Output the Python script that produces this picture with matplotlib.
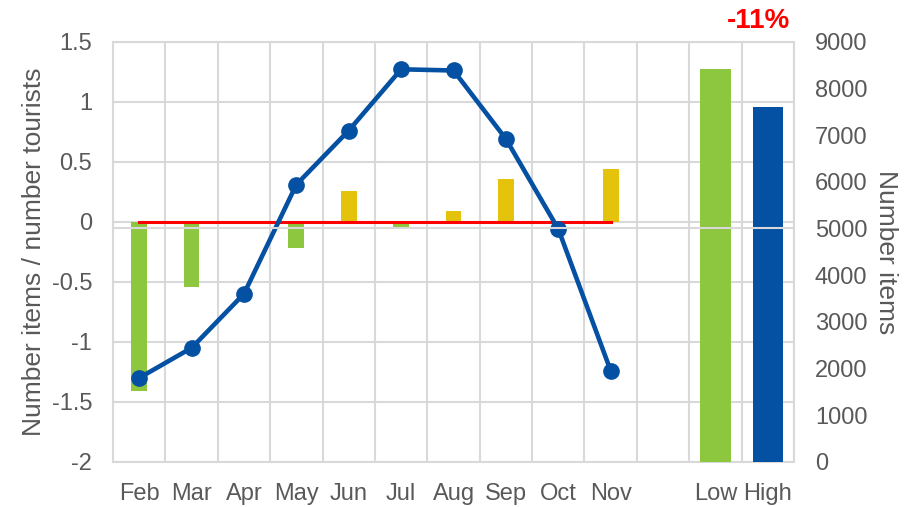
import numpy as np
import matplotlib
matplotlib.use("Agg")
import matplotlib.pyplot as plt
from matplotlib.ticker import FixedLocator

plt.rcParams['font.family'] = ['Liberation Sans', 'DejaVu Sans']

# categories on the shared x axis (one empty slot before Low / High)
categories = ['Feb', 'Mar', 'Apr', 'May', 'Jun', 'Jul', 'Aug', 'Sep', 'Oct', 'Nov', '', 'Low', 'High']
months = categories[:10]

# monthly ratio line (left axis)
ratio = [-1.30, -1.05, -0.60, 0.31, 0.76, 1.27, 1.26, 0.69, -0.06, -1.24]
# monthly change bars (left axis): negative -> green, positive -> yellow
change = [-1.41, -0.54, 0.0, -0.22, 0.26, -0.06, 0.09, 0.36, 0.0, 0.44]
baseline = [0.0] * len(months)

# season totals (right axis)
season = ['Low', 'High']
season_items = [8420, 7600]
pct_label = '-11%'

GREEN = '#8DC63F'
YELLOW = '#E5C30C'
BLUE = '#0450A2'
GRID = '#D9D9D9'
TEXT = '#595959'

fig = plt.figure(figsize=(9.15, 5.07), dpi=100)
ax = fig.add_axes([0.1235, 0.0888, 0.7443, 0.829])

x_month = np.arange(len(months))
bar_colors = [GREEN if v < 0 else YELLOW for v in change]
ax.bar(x_month, change, width=0.3, color=bar_colors, zorder=2)
ax.plot(x_month, baseline, color='#FF0000', lw=2.2, zorder=3)
ax.plot(x_month, ratio, color=BLUE, lw=3.3, marker='o', markersize=11, zorder=4)

ax.set_xlim(-0.5, len(categories) - 0.5)
ax.set_ylim(-2, 1.5)
ax.set_yticks(np.arange(-2, 1.51, 0.5))
ax.set_yticklabels(['-2', '-1.5', '-1', '-0.5', '0', '0.5', '1', '1.5'])
ax.set_xticks(np.arange(len(categories)))
ax.set_xticklabels(categories)
ax.xaxis.set_minor_locator(FixedLocator(np.arange(-0.5, len(categories), 1.0)))
ax.grid(True, which='minor', axis='x', color=GRID, lw=1.5, zorder=0)
ax.grid(True, which='major', axis='y', color=GRID, lw=1.5, zorder=0)
ax.set_axisbelow(True)
ax.tick_params(which='both', length=0)
ax.tick_params(axis='y', labelsize=17, labelcolor=TEXT, pad=15)
ax.tick_params(axis='x', labelsize=17, labelcolor=TEXT, pad=15)
for s in ax.spines.values():
    s.set_color(GRID)
    s.set_linewidth(1.5)
ax.set_ylabel('Number items / number tourists', fontsize=19, color=TEXT, labelpad=4)

ax2 = ax.twinx()
x_season = [categories.index(s) for s in season]
ax2.bar(x_season, season_items, width=0.58, color=[GREEN, BLUE], zorder=2)
ax2.axhline(5000, color=GRID, lw=1.5, zorder=3)
ax2.set_ylim(0, 9000)
ax2.set_yticks(np.arange(0, 9001, 1000))
ax2.tick_params(length=0, labelsize=17, labelcolor=TEXT, pad=15)
for s in ax2.spines.values():
    s.set_visible(False)
ax2.set_ylabel('Number items', fontsize=19, color=TEXT, rotation=270, labelpad=22)

ax2.text(x_season[1] - 0.17, 9290, pct_label, color='#FF0000', fontsize=20,
         fontweight='bold', ha='center', va='baseline')

fig.savefig('out.png', dpi=100)
